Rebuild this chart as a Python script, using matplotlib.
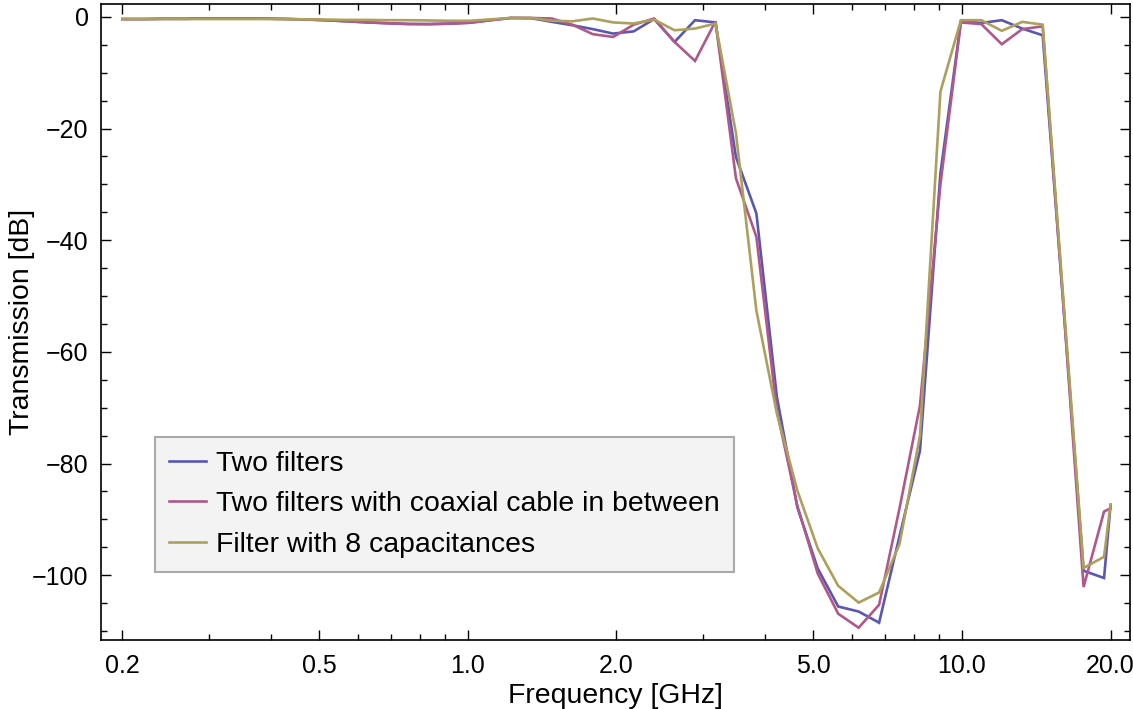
import matplotlib
matplotlib.use("Agg")
import matplotlib.pyplot as plt
from matplotlib.ticker import FixedLocator, FixedFormatter, NullFormatter

plt.rcParams['font.family'] = ['Liberation Sans', 'DejaVu Sans']

freq_ghz = [0.200, 0.220, 0.242, 0.266, 0.293, 0.322, 0.354, 0.390, 0.429, 0.472,
            0.519, 0.571, 0.628, 0.690, 0.759, 0.835, 0.919, 1.011, 1.112, 1.223,
            1.345, 1.480, 1.628, 1.791, 1.970, 2.167, 2.384, 2.622, 2.884, 3.173,
            3.490, 3.839, 4.223, 4.645, 5.110, 5.621, 6.183, 6.801, 7.481, 8.229,
            9.052, 9.957, 10.953, 12.048, 13.253, 14.578, 16.036, 17.640, 19.404, 20.000]

two_filters = [-0.40, -0.40, -0.35, -0.35, -0.30, -0.30, -0.30, -0.32, -0.38, -0.48,
               -0.62, -0.80, -1.00, -1.15, -1.28, -1.30, -1.22, -1.05, -0.60, -0.20,
               -0.25, -0.90, -1.50, -2.20, -3.00, -2.60, -0.40, -4.50, -0.60, -1.00,
               -25.1, -35.2, -68.0, -87.8, -98.8, -105.6, -106.5, -108.5, -93.0, -77.7,
               -28.0, -0.8, -1.1, -0.6, -2.1, -3.3, -51.0, -99.2, -100.5, -87.5]

two_filters_coax = [-0.40, -0.40, -0.35, -0.35, -0.30, -0.30, -0.30, -0.32, -0.38, -0.48,
                    -0.62, -0.80, -1.00, -1.15, -1.28, -1.30, -1.22, -1.05, -0.60, -0.20,
                    -0.20, -0.30, -1.40, -3.10, -3.60, -1.40, -0.30, -4.50, -7.90, -0.80,
                    -28.9, -39.4, -70.5, -87.5, -99.7, -106.9, -109.4, -105.3, -88.0, -69.6,
                    -30.0, -1.0, -1.3, -4.9, -2.2, -1.7, -51.0, -102.1, -88.6, -88.0]

filter_8cap = [-0.40, -0.40, -0.40, -0.40, -0.40, -0.40, -0.40, -0.40, -0.42, -0.45,
               -0.50, -0.55, -0.55, -0.60, -0.60, -0.65, -0.70, -0.70, -0.45, -0.20,
               -0.20, -0.70, -0.80, -0.30, -1.00, -1.20, -0.50, -2.40, -2.10, -1.20,
               -20.8, -52.6, -71.0, -84.8, -95.2, -101.9, -104.9, -103.1, -94.4, -75.0,
               -13.4, -0.6, -0.6, -2.5, -0.9, -1.4, -50.0, -98.7, -96.7, -87.3]

series_labels = ["Two filters", "Two filters with coaxial cable in between", "Filter with 8 capacitances"]
series_colors = ["#5a57b2", "#b0588b", "#ada05c"]

x_major = [0.2, 0.5, 1.0, 2.0, 5.0, 10.0, 20.0]
x_major_labels = ["0.2", "0.5", "1.0", "2.0", "5.0", "10.0", "20.0"]
x_minor = [0.3, 0.4, 0.6, 0.7, 0.8, 0.9, 3, 4, 6, 7, 8, 9]
y_major = [0, -20, -40, -60, -80, -100]
y_minor = [v for v in range(-110, 1, 5) if v % 20 != 0]

fig = plt.figure(figsize=(11.33, 7.09), dpi=100)
ax = fig.add_axes([101/1133, 1-640/709, (1130-101)/1133, (640-4)/709])

for ys, lab, col in zip([two_filters, two_filters_coax, filter_8cap], series_labels, series_colors):
    ax.plot(freq_ghz, ys, color=col, lw=1.9, label=lab, solid_joinstyle='miter')

ax.set_xscale('log')
ax.set_xlim(0.181, 21.9)
ax.set_ylim(-111.6, 2.3)

ax.xaxis.set_major_locator(FixedLocator(x_major))
ax.xaxis.set_major_formatter(FixedFormatter(x_major_labels))
ax.xaxis.set_minor_locator(FixedLocator(x_minor))
ax.xaxis.set_minor_formatter(NullFormatter())
ax.yaxis.set_major_locator(FixedLocator(y_major))
ax.yaxis.set_minor_locator(FixedLocator(y_minor))

ax.tick_params(which='both', direction='in', top=True, right=True, labelsize=18, width=1.0, color='black')
ax.tick_params(which='major', length=7)
ax.tick_params(axis='x', which='major', pad=10)
ax.tick_params(axis='y', which='major', pad=9)
ax.tick_params(which='minor', length=4)
for s in ax.spines.values():
    s.set_linewidth(1.2)

ax.set_xlabel("Frequency [GHz]", fontsize=20.4, labelpad=4)
ax.set_ylabel("Transmission [dB]", fontsize=20.4, labelpad=-2)

leg = ax.legend(loc='upper left', bbox_to_anchor=((155-101)/1029, (640-437)/636), borderaxespad=0,
                fontsize=20.4, handlelength=1.3, handletextpad=0.35, labelspacing=0.5,
                borderpad=0.5, fancybox=False, framealpha=1)
leg.get_frame().set_facecolor('#f3f3f3')
leg.get_frame().set_edgecolor('#aaaaaa')
leg.get_frame().set_linewidth(1.5)

fig.savefig("out.png", dpi=100)
